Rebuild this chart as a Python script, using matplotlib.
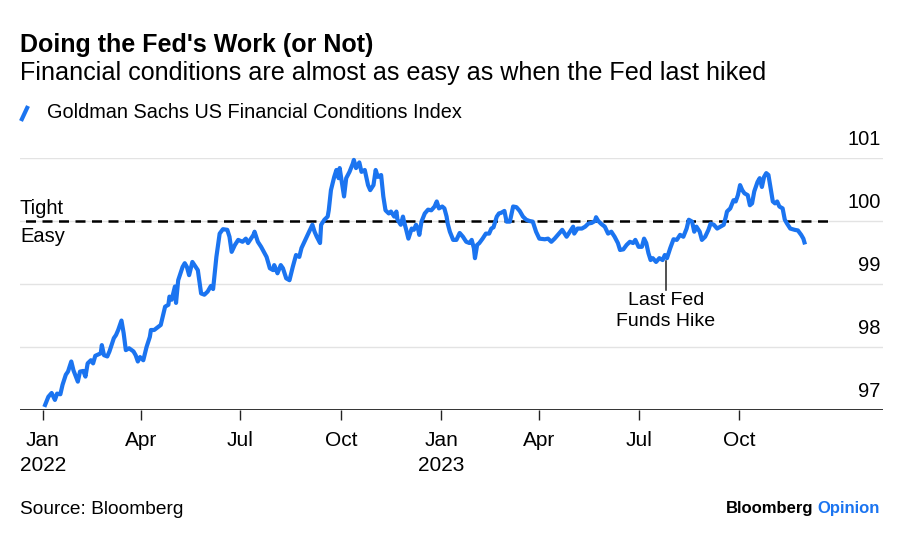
import numpy as np
import matplotlib
matplotlib.use("Agg")
import matplotlib.pyplot as plt
import matplotlib.transforms as mtransforms
from matplotlib.lines import Line2D

plt.rcParams['font.family'] = ['Liberation Sans', 'DejaVu Sans']

# Data: days since 2022-01-01 and index level
day_offsets = [
    2, 5, 8, 11, 13, 16, 18, 21, 23, 26, 28, 32, 34, 37, 39, 41, 44, 46, 48, 53,
    54, 56, 59, 61, 65, 67, 69, 72, 74, 76, 79, 83, 85, 87, 89, 92, 95, 98, 99, 102,
    108, 112, 115, 116, 118, 121, 122, 124, 128, 130, 132, 134, 137, 142, 145, 148, 151, 154, 156, 159,
    162, 165, 169, 171, 173, 176, 179, 183, 186, 188, 193, 194, 197, 200, 205, 208, 211, 212, 215, 218,
    220, 223, 226, 229, 232, 235, 237, 241, 244, 247, 249, 251, 254, 255, 258, 261, 262, 264, 267, 269,
    271, 272, 274, 276, 278, 281, 284, 285, 287, 290, 292, 295, 298, 300, 303, 305, 307, 310, 312, 314,
    317, 319, 322, 324, 325, 328, 330, 331, 333, 335, 338, 340, 342, 344, 345, 347, 350, 353, 356, 359,
    361, 363, 366, 368, 370, 371, 373, 376, 379, 382, 385, 388, 391, 393, 395, 396, 398, 400, 403, 406,
    409, 411, 413, 416, 418, 420, 423, 425, 428, 431, 434, 437, 440, 443, 446, 449, 452, 455, 460, 463,
    466, 469, 473, 476, 480, 483, 486, 487, 490, 494, 497, 500, 503, 506, 507, 509, 512, 515, 518, 521,
    524, 527, 529, 532, 535, 538, 541, 543, 546, 549, 551, 553, 555, 557, 559, 562, 565, 568, 570, 572,
    575, 578, 581, 584, 587, 590, 592, 595, 597, 599, 602, 604, 607, 610, 612, 615, 618, 621, 624, 626,
    627, 630, 633, 635, 637, 639, 641, 643, 646, 648, 650, 652, 655, 657, 659, 661, 663, 665, 667, 669,
    671, 673, 675, 678, 680, 682, 685, 689, 692, 695, 697, 698,
]
fci_values = [
    97.08, 97.21, 97.27, 97.16, 97.26, 97.25, 97.40, 97.56, 97.61, 97.77, 97.63, 97.45, 97.61, 97.62, 97.53, 97.74, 97.79, 97.74, 97.86, 97.90,
    98.03, 97.87, 97.85, 97.93, 98.14, 98.19, 98.27, 98.42, 98.22, 97.95, 97.98, 97.93, 97.87, 97.77, 97.84, 97.79, 98.00, 98.16, 98.27, 98.27,
    98.35, 98.64, 98.67, 98.80, 98.75, 98.96, 98.70, 99.06, 99.27, 99.33, 99.27, 99.14, 99.35, 99.22, 98.85, 98.83, 98.88, 98.97, 98.92, 99.43,
    99.80, 99.87, 99.86, 99.75, 99.51, 99.62, 99.70, 99.67, 99.72, 99.65, 99.78, 99.83, 99.67, 99.59, 99.43, 99.25, 99.22, 99.30, 99.17, 99.30,
    99.25, 99.09, 99.06, 99.27, 99.46, 99.43, 99.57, 99.72, 99.83, 99.94, 99.83, 99.75, 99.65, 99.94, 100.02, 100.07, 100.17, 100.49, 100.70, 100.81,
    100.68, 100.84, 100.62, 100.39, 100.68, 100.78, 100.91, 100.97, 100.84, 100.93, 100.78, 100.81, 100.57, 100.49, 100.57, 100.81, 100.70, 100.73, 100.39, 100.17,
    100.12, 100.15, 100.07, 100.15, 100.02, 99.94, 100.07, 99.99, 99.86, 99.72, 99.88, 99.86, 99.94, 99.86, 99.78, 99.99, 100.12, 100.18, 100.17, 100.23,
    100.31, 100.20, 100.23, 100.20, 100.07, 99.96, 99.83, 99.70, 99.70, 99.81, 99.75, 99.67, 99.65, 99.70, 99.57, 99.41, 99.62, 99.65, 99.72, 99.80,
    99.80, 99.88, 99.90, 100.07, 100.12, 100.13, 100.16, 99.99, 99.99, 100.23, 100.22, 100.16, 100.07, 100.02, 100.00, 99.99, 99.83, 99.72, 99.71, 99.72,
    99.67, 99.72, 99.80, 99.86, 99.75, 99.83, 99.91, 99.80, 99.88, 99.88, 99.91, 99.96, 99.97, 100.00, 100.06, 100.00, 99.95, 99.91, 99.80, 99.83,
    99.75, 99.65, 99.54, 99.55, 99.62, 99.67, 99.65, 99.70, 99.59, 99.59, 99.72, 99.65, 99.49, 99.38, 99.41, 99.35, 99.41, 99.38, 99.46, 99.41,
    99.57, 99.71, 99.70, 99.78, 99.75, 99.88, 100.02, 99.99, 99.83, 99.91, 99.83, 99.70, 99.75, 99.86, 99.96, 99.94, 99.88, 99.91, 99.94, 100.07,
    100.15, 100.20, 100.33, 100.31, 100.41, 100.57, 100.49, 100.44, 100.41, 100.25, 100.28, 100.47, 100.62, 100.68, 100.54, 100.70, 100.76, 100.73, 100.52, 100.31,
    100.28, 100.31, 100.23, 100.20, 100.02, 99.96, 99.88, 99.86, 99.85, 99.78, 99.72, 99.66,
]

tick_dates = ['2022-01-01', '2022-04-01', '2022-07-01', '2022-10-01',
              '2023-01-01', '2023-04-01', '2023-07-01', '2023-10-01']
tick_labels = ['Jan\n2022', 'Apr', 'Jul', 'Oct', 'Jan\n2023', 'Apr', 'Jul', 'Oct']
y_levels = [97, 98, 99, 100, 101]
neutral_level = 100
last_hike = '2023-07-26'

BLUE = '#1b74f0'

dates = np.datetime64('2022-01-01') + np.array(day_offsets).astype('timedelta64[D]')

fig = plt.figure(figsize=(9, 5.38), dpi=100)
ax = fig.add_axes([20 / 900, 128 / 538, 863 / 900, 252 / 538])

# gridlines
for lvl in y_levels[1:]:
    ax.axhline(lvl, color='#e3e3e3', lw=1, zorder=0)
ax.axhline(y_levels[0], color='#222222', lw=1.3, zorder=1)

# tight / easy divider
ax.plot([np.datetime64('2021-12-01'), np.datetime64('2023-12-23')],
        [neutral_level, neutral_level], color='black', lw=1.8,
        dashes=(4, 2.6), zorder=2)

ax.plot(dates, fci_values, color=BLUE, lw=3, solid_joinstyle='round',
        zorder=3, clip_on=False)

ax.set_xlim(np.datetime64('2021-12-11'), np.datetime64('2024-02-10'))
ax.set_ylim(97, 101)

ax.set_xticks([np.datetime64(d) for d in tick_dates])
ax.set_xticklabels(tick_labels, fontsize=15, linespacing=1.4)
ax.tick_params(axis='x', length=7, width=1, color='#222222', pad=8)
ax.set_yticks([])
for s in ax.spines.values():
    s.set_visible(False)

# y labels sitting above gridlines on the right
trans = mtransforms.blended_transform_factory(ax.transAxes, ax.transData)
for lvl in y_levels:
    ax.annotate(str(lvl), xy=(0.997, lvl), xycoords=trans,
                xytext=(0, 13.5), textcoords='offset points',
                ha='right', va='center', fontsize=14.5)

ax.annotate('Tight', xy=(0, neutral_level), xycoords=trans,
            xytext=(0, 9), textcoords='offset points',
            ha='left', va='center', fontsize=14.5)
ax.annotate('Easy', xy=(0, neutral_level), xycoords=trans,
            xytext=(0, -11), textcoords='offset points',
            ha='left', va='center', fontsize=14.5)

# last hike marker
hike = np.datetime64(last_hike)
ax.plot([hike, hike], [99.36, 98.9], color='#222222', lw=1.1, zorder=2)
ax.text(hike, 98.87, 'Last Fed\nFunds Hike', ha='center', va='top',
        fontsize=14, linespacing=1.3)

# titles
fig.text(20 / 900, 1 - 45 / 538, "Doing the Fed's Work (or Not)",
         fontsize=18, fontweight='bold', va='center', ha='left')
fig.text(20 / 900, 1 - 73 / 538,
         "Financial conditions are almost as easy as when the Fed last hiked",
         fontsize=18.1, va='center', ha='left')
fig.add_artist(Line2D([21 / 900, 28 / 900], [1 - 121 / 538, 1 - 106 / 538],
                      color=BLUE, lw=3, solid_capstyle='butt'))
fig.text(47 / 900, 1 - 113 / 538, 'Goldman Sachs US Financial Conditions Index',
         fontsize=14.3, va='center', ha='left')

# footer
fig.text(20 / 900, 1 - 509 / 538, 'Source: Bloomberg', fontsize=13.8,
         va='center', ha='left')
op = fig.text(880 / 900, 1 - 508 / 538, 'Opinion', fontsize=12,
              fontweight='bold', color=BLUE, va='center', ha='right')
fig.canvas.draw()
bb = op.get_window_extent()
fig.text((bb.x0 - 4) / 900, 1 - 508 / 538, 'Bloomberg', fontsize=12,
         fontweight='bold', color='black', va='center', ha='right')

fig.savefig('out.png', dpi=100)
